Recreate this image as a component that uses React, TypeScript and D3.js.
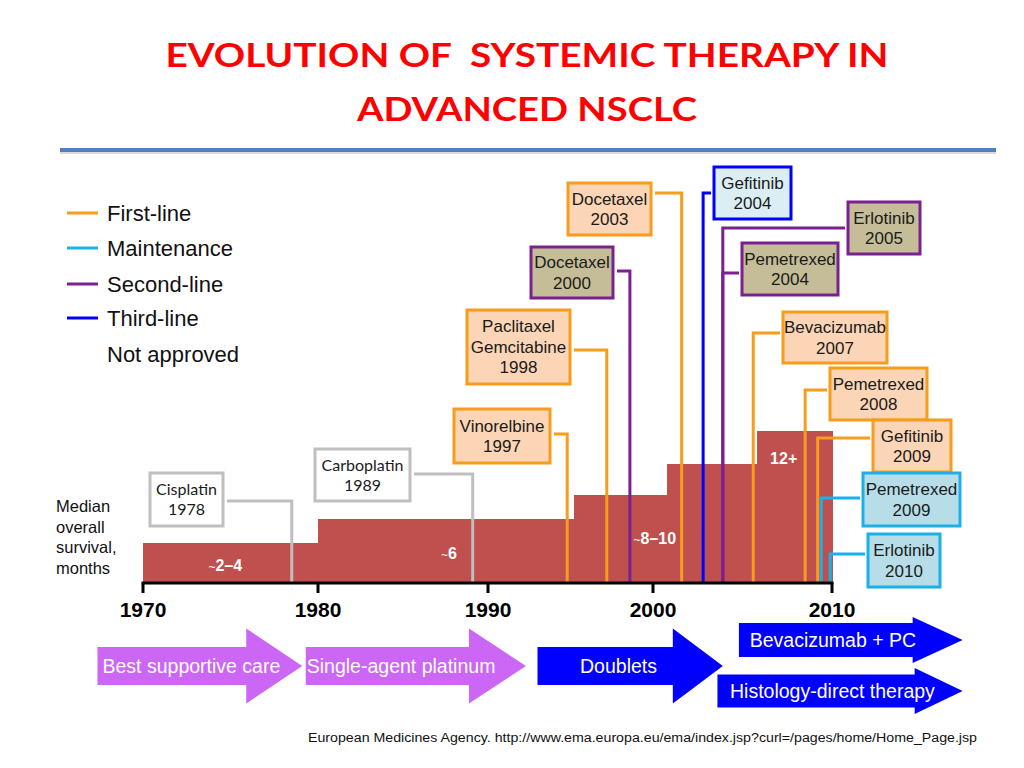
import * as d3 from 'd3'

// ---- data ----
const DECADES = [1970, 1980, 1990, 2000, 2010]

const CATEGORIES = ['First-line', 'Maintenance', 'Second-line', 'Third-line', 'Not approved']

// median OS step levels (months, as drawn)
const SURVIVAL = [
  { start: 1970, end: 1980, months: 3.15 },
  { start: 1980, end: 1995.2, months: 5.05 },
  { start: 1995.2, end: 2000.8, months: 6.95 },
  { start: 2000.8, end: 2005.8, months: 9.4 },
  { start: 2005.8, end: 2010, months: 12 },
]

const SURVIVAL_LABELS = [
  { tilde: true, text: '2–4', year: 1974.7, months: 1.42 },
  { tilde: true, text: '6', year: 1987.7, months: 2.37 },
  { tilde: true, text: '8–10', year: 2000.1, months: 3.55 },
  { tilde: false, text: '12+', year: 2007.3, months: 9.8 },
]

const DRUGS = [
  { lines: ['Cisplatin', '1978'], category: 'Not approved', year: 1978.5 },
  { lines: ['Carboplatin', '1989'], category: 'Not approved', year: 1989.1 },
  { lines: ['Vinorelbine', '1997'], category: 'First-line', year: 1994.8 },
  { lines: ['Paclitaxel', 'Gemcitabine', '1998'], category: 'First-line', year: 1997.2 },
  { lines: ['Docetaxel', '2000'], category: 'Second-line', year: 1998.6 },
  { lines: ['Docetaxel', '2003'], category: 'First-line', year: 2001.6 },
  { lines: ['Gefitinib', '2004'], category: 'Third-line', year: 2002.8 },
  { lines: ['Erlotinib', '2005'], category: 'Second-line', year: 2003.9 },
  { lines: ['Pemetrexed', '2004'], category: 'Second-line', year: 2003.9 },
  { lines: ['Bevacizumab', '2007'], category: 'First-line', year: 2005.6 },
  { lines: ['Pemetrexed', '2008'], category: 'First-line', year: 2008.5 },
  { lines: ['Gefitinib', '2009'], category: 'First-line', year: 2009.2 },
  { lines: ['Pemetrexed', '2009'], category: 'Maintenance', year: 2009.4 },
  { lines: ['Erlotinib', '2010'], category: 'Maintenance', year: 2009.9 },
]

const ERAS = [
  { label: 'Best supportive care', start: 1967.4, end: 1979.1, kind: 'early' },
  { label: 'Single-agent platinum', start: 1979.3, end: 1992.3, kind: 'early' },
  { label: 'Doublets', start: 1993.0, end: 2003.9, kind: 'modern' },
  { label: 'Bevacizumab + PC', start: 2004.8, end: 2017.3, kind: 'modern' },
  { label: 'Histology-direct therapy', start: 2003.6, end: 2017.3, kind: 'modern' },
]

// ---- layout / styling (kept apart from the data) ----
const W = 1024
const H = 768
const AXIS_Y = 583
const SANS = '"Liberation Sans", Arial, sans-serif'
const CAL = 'Lato, "Open Sans", sans-serif'

const STYLE: Record<string, { stroke: string; fill: string }> = {
  'First-line': { stroke: '#f89c1c', fill: '#fbd5b5' },
  Maintenance: { stroke: '#1cb0e8', fill: '#b7dee8' },
  'Second-line': { stroke: '#7a2090', fill: '#c4bd97' },
  'Third-line': { stroke: '#0000ff', fill: '#dbeef4' },
  'Not approved': { stroke: '#bfbfbf', fill: '#ffffff' },
}

// x, y, w, h, connector y (one per drug)
const BOXES = [
  [150, 473, 73, 53, 501],
  [315, 449, 95, 52, 474],
  [454, 409, 96, 54, 434],
  [467, 310, 103, 74, 350],
  [531, 247, 82, 51, 271],
  [568, 183, 83, 52, 193],
  [714, 167, 77, 52, 193],
  [848, 202, 72, 52, 228],
  [742, 243, 96, 52, 273],
  [783, 312, 104, 51, 333],
  [830, 368, 97, 52, 390],
  [873, 420, 78, 52, 438],
  [863, 473, 97, 53, 498],
  [868, 534, 72, 53, 554],
]

// cy, body height, head height, head length, text x offset, anchor
const ARROWS = [
  { cy: 666, bh: 38, hh: 75, hl: 56, tx: 5, anchor: 'start' },
  { cy: 666, bh: 38, hh: 75, hl: 57, tx: 1, anchor: 'start' },
  { cy: 666, bh: 38, hh: 75, hl: 50, tx: 81, anchor: 'middle' },
  { cy: 640, bh: 34, hh: 46, hl: 50, tx: 94, anchor: 'middle' },
  { cy: 691, bh: 33, hh: 46, hl: 48, tx: 115, anchor: 'middle' },
]

export default function App() {
  const x = d3.scaleLinear().domain(DECADES).range([143, 318, 488, 653, 832])
  const y = d3.scaleLinear().domain([0, 12]).range([AXIS_Y, 431])

  const legendY = [213, 248, 284, 318, 354]

  return (
    <svg
      width={W}
      height={H}
      viewBox={`0 0 ${W} ${H}`}
      style={{ position: 'absolute', left: 0, top: 0, background: '#fff' }}
    >
      {/* title */}
      <g fill="#ff0000" fontFamily={CAL} fontWeight={700} fontSize={33} textAnchor="middle">
        <text x={527} y={67} textLength={723} lengthAdjust="spacingAndGlyphs" xmlSpace="preserve" style={{ whiteSpace: 'pre' }}>
          {'EVOLUTION OF  SYSTEMIC THERAPY IN'}
        </text>
        <text x={527} y={121} textLength={340} lengthAdjust="spacingAndGlyphs">ADVANCED NSCLC</text>
      </g>
      <line x1={60} x2={996} y1={153} y2={153} stroke="#d9d9d9" strokeWidth={2} />
      <line x1={60} x2={996} y1={150} y2={150} stroke="#4f81bd" strokeWidth={4} />

      {/* legend */}
      {CATEGORIES.map((c, i) => (
        <g key={c}>
          {c !== 'Not approved' && (
            <line x1={67} x2={98} y1={legendY[i]} y2={legendY[i]} stroke={STYLE[c].stroke} strokeWidth={3} />
          )}
          <text x={107} y={legendY[i] + 8} fontFamily={SANS} fontSize={22} fill="#111">{c}</text>
        </g>
      ))}

      {/* y label */}
      <g fontFamily={SANS} fontSize={16.5} fill="#111">
        {['Median', 'overall', 'survival,', 'months'].map((t, i) => (
          <text key={t} x={56} y={512 + i * 20.5}>{t}</text>
        ))}
      </g>

      {/* survival steps */}
      {SURVIVAL.map((s, i) => (
        <rect
          key={i}
          x={x(s.start)}
          y={y(s.months)}
          width={x(s.end) - x(s.start) + 0.6}
          height={AXIS_Y - y(s.months)}
          fill="#c0504d"
          shapeRendering="crispEdges"
        />
      ))}

      {/* connectors */}
      {DRUGS.map((d, i) => {
        const [bx, , bw, , cy] = BOXES[i]
        const lx = x(d.year)
        const left = bx + bw < lx
        const hx = left ? bx + bw + 4 : bx - 3
        return (
          <path
            key={i}
            d={`M${hx},${cy}H${lx}V${AXIS_Y}`}
            stroke={STYLE[d.category].stroke}
            strokeWidth={3}
            fill="none"
          />
        )
      })}

      {/* survival labels */}
      {SURVIVAL_LABELS.map((l, i) => (
        <text
          key={i}
          x={x(l.year)}
          y={y(l.months)}
          dy="0.35em"
          textAnchor="middle"
          fontFamily={SANS}
          fontWeight={700}
          fontSize={16}
          fill="#fff"
        >
          {l.tilde && <tspan fontWeight={400} fontSize={12}>~</tspan>}
          {l.text}
        </text>
      ))}

      {/* boxes */}
      {DRUGS.map((d, i) => {
        const [bx, by, bw, bh] = BOXES[i]
        const st = STYLE[d.category]
        const grey = d.category === 'Not approved'
        const step = grey ? 20 : 20.5
        const cx = bx + bw / 2
        const cyy = by + bh / 2
        const n = d.lines.length
        return (
          <g key={i}>
            <rect x={bx} y={by} width={bw} height={bh} fill={st.fill} stroke={st.stroke} strokeWidth={3} />
            {d.lines.map((t, j) => (
              <text
                key={j}
                x={cx}
                y={cyy + (j - (n - 1) / 2) * step}
                dy="0.35em"
                textAnchor="middle"
                fontFamily={grey ? CAL : SANS}
                fontSize={grey ? 16 : 17}
                fill="#1a1a1a"
              >
                {t}
              </text>
            ))}
          </g>
        )
      })}

      {/* time axis */}
      <line x1={x(1970) - 1.5} x2={x(2010) + 1.5} y1={AXIS_Y} y2={AXIS_Y} stroke="#000" strokeWidth={3} />
      {DECADES.map((d) => (
        <g key={d}>
          <line x1={x(d)} x2={x(d)} y1={AXIS_Y} y2={AXIS_Y + 10} stroke="#000" strokeWidth={3} />
          <text x={x(d)} y={617} textAnchor="middle" fontFamily={SANS} fontWeight={700} fontSize={21} fill="#000">
            {d}
          </text>
        </g>
      ))}

      {/* treatment eras */}
      {ERAS.map((e, i) => {
        const a = ARROWS[i]
        const x0 = x(e.start)
        const tip = x(e.end)
        const hx = tip - a.hl
        const path = `M${x0},${a.cy - a.bh / 2}H${hx}V${a.cy - a.hh / 2}L${tip},${a.cy}L${hx},${a.cy + a.hh / 2}V${a.cy + a.bh / 2}H${x0}Z`
        return (
          <g key={e.label}>
            <path d={path} fill={e.kind === 'early' ? '#cc66f5' : '#0000ff'} />
            <text
              x={x0 + a.tx}
              y={a.cy}
              dy="0.35em"
              textAnchor={a.anchor}
              fontFamily={SANS}
              fontSize={19.5}
              fill="#fff"
            >
              {e.label}
            </text>
          </g>
        )
      })}

      {/* source */}
      <text x={308} y={742} fontFamily={SANS} fontSize={12.5} fill="#111" textLength={669} lengthAdjust="spacingAndGlyphs">
        European Medicines Agency. http://www.ema.europa.eu/ema/index.jsp?curl=/pages/home/Home_Page.jsp
      </text>
    </svg>
  )
}
